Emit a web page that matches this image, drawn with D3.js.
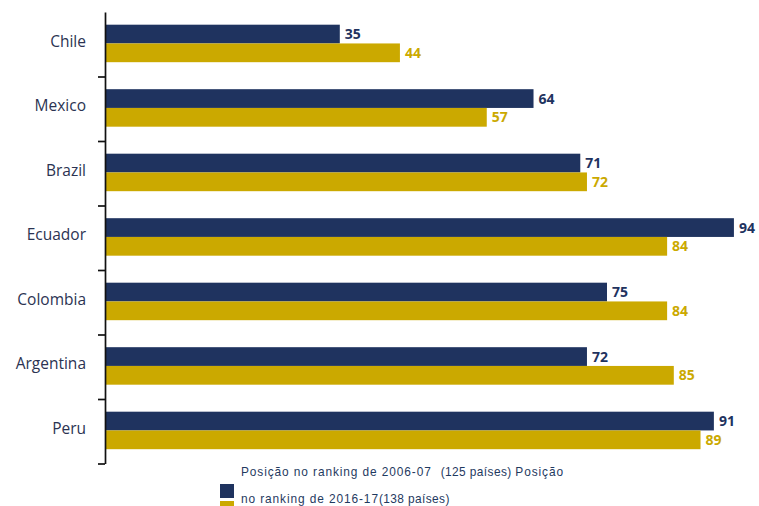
<!DOCTYPE html>
<html>
<head>
<meta charset="utf-8">
<script src="https://cdn.jsdelivr.net/npm/d3@7"></script>
<style>
  body { margin: 0; background: #fff; }
  svg { display: block; }
</style>
</head>
<body>
<main></main>
<script>
// data
const countries = ["Chile", "Mexico", "Brazil", "Ecuador", "Colombia", "Argentina", "Peru"]
const rank2006 = [35, 64, 71, 94, 75, 72, 91]
const rank2016 = [44, 57, 72, 84, 84, 85, 89]
const seriesKeys = ["r2006", "r2016"]
const seriesColors = ["#1f335f", "#cba900"]

const sizeOfSVG = { width: 759, height: 506 }

const rows = countries.map((c, i) => ({ country: c, r2006: rank2006[i], r2016: rank2016[i] }))

const svg = d3.select('main')
  .append('svg')
  .attr('width', sizeOfSVG.width)
  .attr('height', sizeOfSVG.height)

// scales
const x = d3.scaleLinear().domain([0, 100]).range([106, 774])
const y = d3.scaleBand().domain(countries).range([12, 463.5]).padding(0)
const ySub = d3.scaleBand().domain(seriesKeys).range([0, y.bandwidth()])
  .paddingInner(0).paddingOuter(0.72).align(0.47)
const color = d3.scaleOrdinal().domain(seriesKeys).range(seriesColors)

// bars
const groups = svg.append('g')
  .selectAll('g')
  .data(rows)
  .enter()
  .append('g')
  .attr('transform', d => 'translate(0,' + y(d.country) + ')')

groups.selectAll('rect')
  .data(d => seriesKeys.map(k => ({ key: k, value: d[k] })))
  .enter()
  .append('rect')
  .attr('x', x(0))
  .attr('y', d => ySub(d.key))
  .attr('width', d => x(d.value) - x(0))
  .attr('height', ySub.bandwidth())
  .attr('fill', d => color(d.key))

// value labels
groups.selectAll('text')
  .data(d => seriesKeys.map(k => ({ key: k, value: d[k] })))
  .enter()
  .append('text')
  .attr('x', d => x(d.value) + 5)
  .attr('y', d => ySub(d.key) + ySub.bandwidth() / 2)
  .attr('dy', '0.36em')
  .attr('fill', d => color(d.key))
  .style('font-family', '"Open Sans", sans-serif')
  .style('font-weight', 'bold')
  .style('font-size', '14px')
  .text(d => d.value)

// axis line with ticks between categories
const yIdx = d3.scaleLinear().domain([0, countries.length]).range(y.range())
svg.append('g')
  .attr('transform', 'translate(' + 105 + ',0)')
  .call(d3.axisLeft(yIdx)
    .tickValues(d3.range(1, countries.length + 1))
    .tickFormat('')
    .tickSize(7)
    .tickSizeOuter(0))
  .call(g => g.selectAll('path, line').attr('stroke', '#111').attr('stroke-width', 1.7))

// category labels
svg.append('g')
  .attr('transform', 'translate(' + 86 + ',0)')
  .call(d3.axisLeft(y).tickSize(0).tickPadding(0))
  .call(g => g.select('.domain').remove())
  .call(g => g.selectAll('text')
    .attr('dy', '0.16em')
    .attr('fill', '#2b3352')
    .style('font-family', '"Open Sans", sans-serif')
    .style('font-size', '15.5px'))

// legend
const legend = svg.append('g').attr('id', 'legend')
const line1 = legend.append('text')
  .attr('x', 241)
  .attr('y', 476)
  .attr('fill', '#1f3a5f')
  .style('font-family', '"Liberation Sans", Arial, sans-serif')
  .style('font-size', '11.9px')
  .style('letter-spacing', '0.9px')
line1.append('tspan').text('Posição no ranking de 2006-07')
line1.append('tspan')
  .attr('dx', 9)
  .style('letter-spacing', '0.4px')
  .text('(125 países) ')
line1.append('tspan').text('Posição')

const line2 = legend.append('text')
  .attr('x', 241)
  .attr('y', 503)
  .attr('fill', '#1f3a5f')
  .style('font-family', '"Liberation Sans", Arial, sans-serif')
  .style('font-size', '11.9px')
  .style('letter-spacing', '0.9px')
line2.append('tspan').text('no ranking de 2016-17')
line2.append('tspan')
  .style('letter-spacing', '0.4px')
  .text('(138 países)')

legend.append('rect')
  .attr('x', 220).attr('y', 484).attr('width', 14).attr('height', 14)
  .attr('fill', seriesColors[0])
legend.append('rect')
  .attr('x', 220).attr('y', 501).attr('width', 14).attr('height', 5)
  .attr('fill', seriesColors[1])
</script>
</body>
</html>
